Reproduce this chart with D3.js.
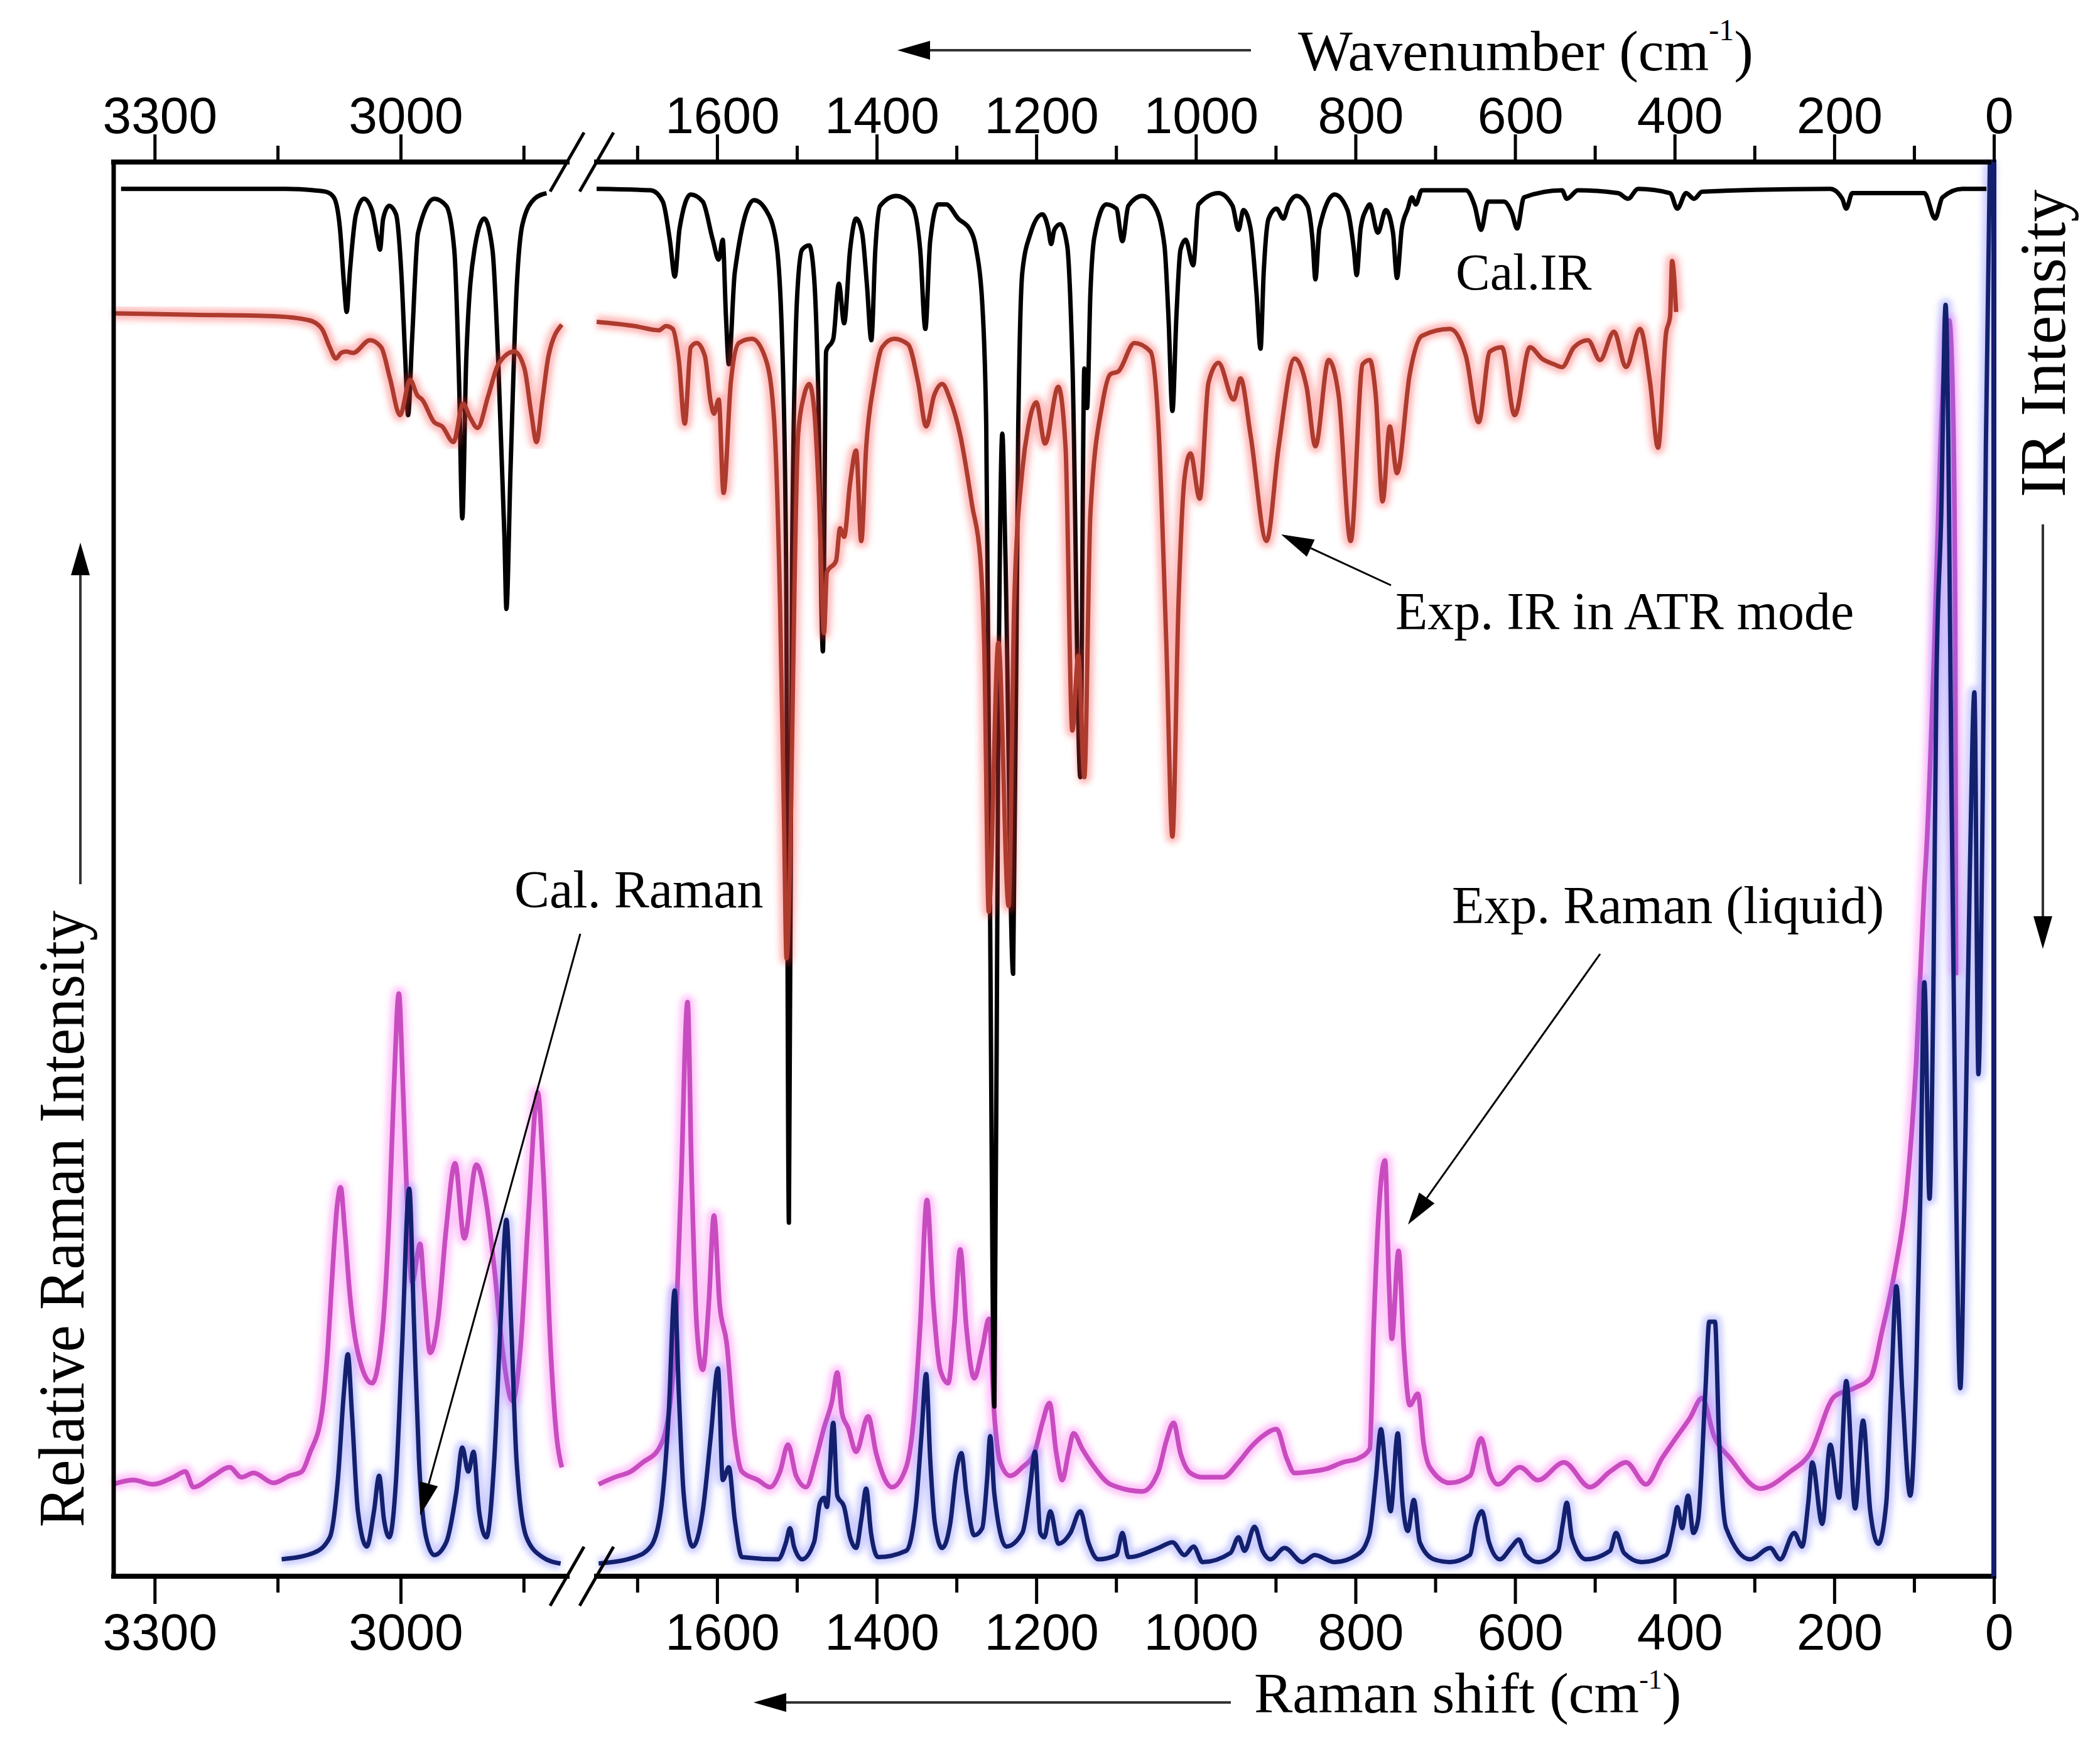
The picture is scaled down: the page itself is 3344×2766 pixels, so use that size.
<!DOCTYPE html>
<html>
<head>
<meta charset="utf-8">
<script src="https://cdn.jsdelivr.net/npm/d3@7"></script>
<style>
  body { margin: 0; background: #fff; }
  svg { display: block; }
</style>
</head>
<body>
<script>
// ---- data: [wavenumber (cm-1), relative intensity (0-100)] ----

// tick values of the broken wavenumber axis
var leftMajor = [3300, 3000], leftMinor = [3150, 2850];
var rightMajor = [1600, 1400, 1200, 1000, 800, 600, 400, 200, 0];
var rightMinor = [1700, 1500, 1300, 1100, 900, 700, 500, 300, 100];

// calculated IR (black)
var calIRLeft = [[3341,98.1],[3140,98.1],[3106,98],[3091,97.9],[3081.5,97.5],[3074,95.3],[3069,91.3],[3065.8,89.4],
  [3062,92.2],[3054.5,96.3],[3044.8,97.4],[3035,96.6],[3028.6,94.7],[3025.2,93.8],[3021.3,96],[3014,96.9],
  [3005.6,96.3],[2999.2,92.2],[2994.3,86],[2990.9,82.1],[2986,87.5],[2978.7,95],[2959,97.4],[2944.4,96.9],
  [2934.6,93.8],[2928.7,84.4],[2924.8,74.8],[2920,86],[2910,93.8],[2898,96],[2888,93.8],[2881,86],
  [2873.4,73.5],[2871,68.4],[2866,78.2],[2858.8,90.7],[2851.4,95.6],[2836.7,97.4],[2822,97.8]];
var calIRRight = [[1751,98.1],[1683,98],[1668,97.2],[1659,94.4],[1653,91.9],[1647,95.3],[1633,97.7],[1618,97.2],
  [1605.4,94.5],[1598,93.1],[1592.9,94.5],[1588.9,89.1],[1585.3,85.7],[1577.8,92.2],[1553.7,97.3],[1538.7,96.6],
  [1526.1,94.4],[1518.6,87.5],[1513.6,72],[1510,25],[1506,72],[1499.5,90.7],[1493.5,93.8],[1484.5,94.1],
  [1478.5,91.9],[1473.5,84.4],[1467.4,65.4],[1463.4,86.6],[1454.4,87.5],[1447.4,91.4],[1440.8,88.6],[1433.3,93.8],
  [1425.8,96],[1418.3,95],[1412.2,91.3],[1406.7,87.4],[1401.7,93.8],[1395.7,96.9],[1375.6,97.6],[1355.5,96.9],
  [1345.5,93.8],[1339,88.2],[1333,94.4],[1323,97],[1312.9,97],[1297.8,96],[1282.8,95.2],[1275.2,93.8],
  [1267.7,90],[1262.7,81.3],[1258.7,53.3],[1252.5,12],[1247.7,59.5],[1242.6,80.8],[1238.6,72],[1229,42.6],
  [1222.6,81.3],[1217.5,92.2],[1207.5,94.9],[1192.4,96.3],[1185,95.3],[1181.4,94.2],[1177.4,95.2],[1169.9,95.6],
  [1161.3,94.1],[1154.8,86],[1144.8,56.5],[1139.8,85.4],[1136.3,82.6],[1132.2,90.7],[1127.2,94.7],[1112.2,97],
  [1099.6,96.7],[1092.1,94.4],[1084.6,96.9],[1067,97.6],[1052,96.9],[1039.4,94.1],[1034.4,89.1],[1029.4,82.4],
  [1024.4,89.1],[1019.3,93.8],[1012.8,94.5],[1003.3,92.7],[996.7,97],[971.7,97.8],[954.1,96.9],[946.6,95.2],
  [940.5,96.6],[931.5,95.3],[924,90.7],[919,86.8],[915,92.2],[908.9,96],[898.9,96.7],[890.4,96],
  [883.8,97],[873.8,97.6],[860.3,96.9],[853.7,94.4],[850.2,91.7],[845.2,95.3],[826.1,97.7],[810,96.6],
  [802,93.8],[798.5,92],[793.5,95.3],[786,96.7],[782.1,97],[772,95],[762,96.6],[753,95],[748,91.8],[742,95.3],
  [734.4,96.7],[729.4,97.5],[724.4,97],[716.9,98],[661.7,98],[650.6,96.9],[642.6,95.2],[634.1,97.2],[614,97.2],
  [604,96.4],[597.4,95.3],[588.9,97.5],[541.2,98],[535.2,97.4],[521.2,98],[471,97.8],[458.4,97.4],[445.9,98.1],
  [405.7,97.8],[396.7,96.7],[385.7,97.8],[375.6,97.4],[365.6,97.9],[205,98.1],[190,97.4],[185,96.7],[177.4,97.8],
  [87.1,97.8],[73.6,96],[64.5,97.5],[39.4,98.1],[9.3,98.1]];

// experimental IR, ATR (red)
var expIRLeft = [[3350.7,89.3],[3253,89.2],[3155,89.1],[3111,88.8],[3096,88.2],[3086.4,86.9],[3079,86.1],[3072.7,86.5],
  [3066.8,86.6],[3058,86.5],[3037.4,87.4],[3023.7,86.9],[3013,84.7],[3000.7,82.1],[2988.5,84.6],[2979.6,83.5],
  [2973.8,83.2],[2959,81.6],[2949.3,81.3],[2935.6,80.2],[2923.8,82.9],[2915,81.9],[2906.2,81.2],[2893,83.5],
  [2880.8,85.7],[2861.2,86.6],[2849,85.4],[2840.6,82.2],[2834.3,80.2],[2827,83.2],[2819.6,86.3],[2803.4,88.5]];
var expIRRight = [[1750.9,88.7],[1703.3,88.4],[1673,88.1],[1664,88.4],[1655.6,88.2],[1648,86],[1640.5,81.5],[1633,86.9],
  [1625.5,87.2],[1615.4,86.3],[1607.9,83],[1603.9,82.2],[1597.9,83.2],[1591.9,76.6],[1582.8,84.4],[1572.8,87.2],
  [1556.3,87.5],[1538.7,86],[1528.7,81.9],[1521.1,68.8],[1516.1,53.3],[1513,43.7],[1508,52],[1503,70],
  [1498.5,80.7],[1491,83.5],[1484.5,84.3],[1478.5,82.6],[1472.5,76.6],[1466,66.7],[1462.4,71],[1450.9,71.8],
  [1445.9,74.1],[1440.8,73.5],[1433.3,77.3],[1425.8,79.6],[1419.3,73.2],[1413.2,79.8],[1403.2,84.4],[1393.2,86.9],
  [1378.1,87.5],[1360.6,87.1],[1348,84.4],[1338,81.3],[1328,83.5],[1317.9,84.3],[1307.9,83.2],[1295.3,80.7],
  [1280.3,75.7],[1270.2,72],[1265.2,65.7],[1259.6,47],[1247.5,66],[1234.7,47.4],[1227.6,68.9],[1217.5,78.2],
  [1210,81.3],[1200,83],[1189,80.1],[1172.4,84.1],[1163.3,79.8],[1154.8,59.8],[1147.3,65.1],[1139.8,56.5],
  [1132.2,75.1],[1117.2,82.9],[1107.1,85],[1097.1,85.2],[1077,87.2],[1056.9,86.6],[1046.9,81.3],[1036.9,65.7],
  [1029.4,52.3],[1021.8,68.8],[1014.3,77.6],[1006.8,79.4],[995.2,76.2],[984.2,84.4],[971.7,85.8],[952.6,83.2],
  [944.1,84.7],[931.5,80.7],[911.4,73.2],[896.4,79.8],[876.3,86.1],[861.3,84.1],[850.2,79.9],[833.7,86],
  [821.1,83.5],[806,73.2],[791,85.7],[782.1,86],[774.6,83.5],[766,76],[757,81.3],[748,78],[732,85],
  [716.9,87.7],[681.7,88.2],[661.7,86.3],[645.6,81.6],[631.6,86.6],[616.5,86.9],[600.5,82.1],[581.4,86.9],
  [566.3,86.1],[551.3,85.7],[541.2,85.5],[526.2,86.9],[508.6,87.4],[493.6,86],[476,88],[461,85.5],[443.4,88.2],
  [430.8,84.4],[420.8,79.8],[410.8,87.9],[405.7,89.1],[403.2,93],[398.2,89.4]];

// experimental Raman, liquid (magenta)
var expRamanLeft = [[3350.7,6.5],[3326.2,6.8],[3301.7,6.5],[3277.3,7.0],[3262.6,7.4],[3252.8,6.3],[3228.3,7.1],[3208.7,7.7],
  [3194.1,7.0],[3179.4,7.3],[3154.9,6.6],[3135.3,7.1],[3120.6,7.4],[3110.8,8.7],[3096.2,11.5],[3088.8,16.1],
  [3083.9,20.8],[3077.6,26.1],[3073.2,27.5],[3068.3,24.6],[3061.9,19.9],[3052.1,15.8],[3035,13.65],[3022.7,17.1],
  [3013.9,25.5],[3008,34.8],[3002.2,41.2],[2997.3,34.8],[2992.4,27.0],[2986,20.8],[2976.2,23.5],[2971.3,20.2],
  [2964,15.8],[2954.2,18.3],[2944.4,24.6],[2933.6,29.2],[2922.4,23.9],[2907.7,29.1],[2895.5,26.4],[2885.7,21.75],
  [2875.9,16.1],[2863.6,12.4],[2853.9,16.1],[2844.1,25.5],[2832.8,34.2],[2826,28.6],[2817.1,16.1],[2809.8,9.9],
  [2803.4,7.7]];
var expRamanRight = [[1748.4,6.5],[1728.4,7.0],[1708.3,7.4],[1693.2,8.05],[1673.2,9.0],[1660.6,11.5],[1653.1,16.1],
  [1645.5,27.0],[1637,40.6],[1632,28.6],[1625.5,17.7],[1618,14.6],[1610.4,19.3],[1603.9,25.5],[1596.9,19.3],
  [1587.9,16.45],[1577.8,9.9],[1568.8,7.4],[1548.7,6.8],[1533.7,6.3],[1521.1,7.4],[1511.1,9.3],[1501,7.1],
  [1488.5,6.3],[1476,8.35],[1466,10.5],[1455.9,12.4],[1449.4,14.4],[1443.4,11.5],[1435.8,10.5],[1425.8,8.8],
  [1410.7,11.3],[1400.7,8.7],[1380.6,6.3],[1363.1,7.7],[1353,11.5],[1345.5,17.7],[1337,26.6],[1329,19.3],
  [1320.4,14.6],[1310.4,13.65],[1302.8,17.7],[1295.3,23.1],[1287.8,17.7],[1277.8,14],[1267.7,16.1],[1259.2,18.2],
  [1252.7,11.5],[1245.1,8.05],[1232.6,7.1],[1217.5,7.7],[1202.5,8.7],[1192.4,10.85],[1183.4,12.25],[1174.9,8.7],
  [1167.4,6.8],[1159.8,8.7],[1153.3,10.1],[1142.3,9.0],[1127.2,7.7],[1107.1,6.5],[1067,6.0],[1047,7.4],
  [1036.9,9.6],[1027.9,10.85],[1019.3,8.7],[1006.8,7.3],[991.7,7.0],[966.6,7.0],[946.6,8.05],[931.5,9.1],
  [916.5,9.9],[898.9,10.4],[886.3,8.35],[876.3,7.3],[856.2,7.4],[836.2,7.6],[816.1,8.05],[796,8.35],
  [782.1,9.0],[777.1,17.7],[771.1,25.5],[763,29.4],[758,20.8],[754.5,16.8],[746,23],[739.4,16.1],[731.9,12.1],
  [721.9,12.9],[714.4,9.3],[706.8,7.7],[681.7,6.6],[656.6,7.1],[642.6,9.75],[631.6,7.3],[621.5,6.5],[593.9,7.7],
  [571.3,6.8],[538.7,8.05],[506.1,6.3],[481,7.4],[460.9,8.05],[435.9,6.5],[415.8,8.35],[400.7,9.6],[380.7,11.2],
  [365.6,12.6],[350.6,9.9],[330.5,8.35],[292.8,6.2],[255.2,7.4],[230.1,8.7],[200,12.7],[174.9,13.3],[154.8,14],
  [139.8,17.4],[124.7,21.4],[109.7,27.0],[97.2,36.4],[87.1,48.85],[84.6,51.2],[74.6,65.7],[67,79.8],[60,87.5],
  [56,88.8],[51,82],[48.5,68],[47.5,42.5]];

// calculated Raman (navy)
var calRamanLeft = [[3145.1,1.2],[3106,1.65],[3086.4,2.75],[3076.6,6.8],[3069.2,13],[3064.4,15.7],[3059.4,11.5],[3052.1,4.6],
  [3041.3,2.1],[3032.5,4.6],[3026.2,7.1],[3020.3,4.0],[3013.9,2.75],[3005.6,6.8],[2998.3,16.1],[2989.5,27.4],
  [2983.6,17.7],[2977.7,8.35],[2968.9,2.75],[2959.1,1.5],[2944.4,2.4],[2932.2,5.9],[2924.8,9.1],[2917.5,7.4],
  [2911.1,8.8],[2904.3,4.6],[2895.5,2.75],[2885.7,8.35],[2878.3,17.7],[2871,25.2],[2865.1,17.7],[2858.8,8.35],
  [2846.5,2.75],[2826.9,1.35],[2804.9,0.9]];
var calRamanRight = [[1748.4,0.9],[1703.3,1.35],[1683.2,2.1],[1670.6,4.6],[1660.6,11.5],[1653.1,20.2],[1648,13],[1642,5.9],
  [1630.5,2.1],[1618,4.6],[1607.9,9.9],[1598.9,14.7],[1592.9,6.8],[1585.3,7.7],[1577.8,4.0],[1568.8,1.35],
  [1523.6,1.2],[1513.6,2.4],[1508.6,3.4],[1503.6,2.1],[1493.5,1.2],[1478.5,2.4],[1471,5.2],[1466,5.55],
  [1462.4,4.9],[1454.4,10.85],[1449.4,5.7],[1440.8,4.9],[1433.3,2.75],[1425.8,2.0],[1419.3,4.0],[1413.2,6.2],
  [1407.2,3.1],[1398.2,1.35],[1363.1,1.8],[1350.5,5.2],[1344,9.9],[1338,14.3],[1333,8.35],[1327,3.7],
  [1318,2.0],[1307.9,3.7],[1300.3,7.4],[1293.8,8.7],[1287.8,5.9],[1277.8,2.9],[1267.7,3.4],[1261.7,6.8],
  [1257.7,9.9],[1252.7,5.9],[1237.6,2.1],[1217.5,3.06],[1208.5,5.9],[1201.5,8.8],[1195,3.06],[1190,2.75],
  [1182.4,4.6],[1172.4,2.3],[1157.3,3.06],[1144.8,4.6],[1134.7,2.4],[1122.2,1.2],[1099.6,1.5],[1092.1,3.06],
  [1084.6,1.35],[1047,2.0],[1029.4,2.4],[1014.3,1.5],[1002.8,2.1],[991.7,1.0],[956.6,1.65],[946.6,2.75],
  [939,1.8],[926.5,3.5],[916.5,1.8],[906.4,1.2],[888.9,2.0],[866.3,1.0],[851.2,1.5],[826.1,1.0],[798.5,1.5],
  [786,2.4],[782.1,3.06],[774.6,6.8],[768.1,10.4],[762,7.4],[756,4.6],[747,10.1],[741,5.2],[734.4,3.2],
  [726.9,5.4],[719.4,2.4],[701.8,1.2],[681.7,1.0],[656.7,1.5],[649.1,3.7],[641.6,4.6],[632.6,2.4],[619,1.2],
  [604,2.1],[595.4,2.6],[586.4,1.5],[571.3,1.0],[546.3,1.8],[540.2,3.7],[535.2,5.2],[528.7,2.75],[511.1,1.2],
  [481,1.8],[473.5,3.06],[463.5,1.65],[440.9,1.0],[410.8,1.5],[400.7,3.7],[396.7,4.9],[390.7,3.4],[383.2,5.7],
  [376.6,3.06],[370.6,4.0],[361.6,13.0],[356.6,18.0],[349.5,18.0],[344.5,9.9],[335.5,3.4],[305.4,1.2],
  [280.3,2.0],[267.8,1.2],[250.2,3.06],[240.2,2.1],[232.6,5.2],[227.6,8.05],[215.1,3.7],[205,9.3],[194,5.55],
  [185,13.8],[173.9,4.8],[163.9,11],[154.9,4.6],[144.8,2.3],[134.8,5.2],[128.8,13],[122.2,20.5],[114.7,13],
  [104.7,5.7],[97.1,14.6],[92.1,27],[87.1,42],[80.6,26.7],[75.6,42.6],[72,63.2],[66,75],[60.5,89.9],[57,80],
  [53,55],[48,30],[42,13.3],[36,30],[30,50],[24.4,62.5],[19.4,35.5],[14,55],[10,80],[5,100]];

// ---- layout ----
var W = 3344, H = 2766;
var plot = {left: 181, right: 3175, top: 258, bottom: 2510, breakL: 903, breakR: 950};
var serif = "'Liberation Serif', 'Times New Roman', serif";
var sans = "'Liberation Sans', Arial, sans-serif";

var xL = d3.scaleLinear().domain([3350, 2797]).range([plot.left, plot.breakL]);
var xR = d3.scaleLinear().domain([1751, 0]).range([plot.breakR, plot.right]);
var y = d3.scaleLinear().domain([0, 100]).range([plot.bottom, plot.top]);

var svg = d3.select("body").append("svg")
  .attr("width", W).attr("height", H)
  .attr("viewBox", "0 0 " + W + " " + H);

var defs = svg.append("defs");
defs.append("filter").attr("id", "glow")
  .attr("x", "-5%").attr("y", "-5%").attr("width", "110%").attr("height", "110%")
  .append("feGaussianBlur").attr("stdDeviation", 5);

function lineFor(xs) {
  return d3.line().x(function(d) { return xs(d[0]); }).y(function(d) { return y(d[1]); })
    .curve(d3.curveMonotoneX);
}

var series = [
  {left: expRamanLeft, right: expRamanRight, color: "#c84cbf", glow: "#ff5ef0", width: 7.5},
  {left: calRamanLeft, right: calRamanRight, color: "#12206e", glow: "#6f74ff", width: 7},
  {left: calIRLeft, right: calIRRight, color: "#000000", glow: null, width: 7},
  {left: expIRLeft, right: expIRRight, color: "#ad3b2e", glow: "#ff3b3b", width: 7}
];

var curves = svg.append("g").attr("class", "curves");
series.forEach(function(s) {
  [[s.left, xL], [s.right, xR]].forEach(function(p) {
    if (s.glow) {
      curves.append("path").datum(p[0])
        .attr("d", lineFor(p[1]))
        .attr("fill", "none").attr("stroke", s.glow)
        .attr("stroke-width", s.width * 3).attr("stroke-opacity", 0.35)
        .attr("stroke-linejoin", "round").attr("filter", "url(#glow)");
    }
    curves.append("path").datum(p[0])
      .attr("d", lineFor(p[1]))
      .attr("fill", "none").attr("stroke", s.color)
      .attr("stroke-width", s.width).attr("stroke-linejoin", "round");
  });
});

// ---- frame with axis break ----
var frame = svg.append("g").attr("stroke", "#000").attr("stroke-linecap", "square");
[plot.top, plot.bottom].forEach(function(yy) {
  frame.append("line").attr("x1", plot.left).attr("x2", plot.breakL).attr("y1", yy).attr("y2", yy).attr("stroke-width", 8);
  frame.append("line").attr("x1", plot.breakR).attr("x2", plot.right).attr("y1", yy).attr("y2", yy).attr("stroke-width", 8);
  [plot.breakL, plot.breakR].forEach(function(xx) {
    frame.append("line").attr("x1", xx - 27).attr("y1", yy + 47).attr("x2", xx + 27).attr("y2", yy - 47)
      .attr("stroke-width", 5).attr("stroke-linecap", "butt");
  });
});
frame.append("line").attr("x1", plot.left).attr("x2", plot.left).attr("y1", plot.top).attr("y2", plot.bottom).attr("stroke-width", 7);
frame.append("line").attr("x1", plot.right).attr("x2", plot.right).attr("y1", plot.top).attr("y2", plot.bottom)
  .attr("stroke-width", 8).attr("stroke", "#141e6e");

// ---- ticks via d3 axes ----
function styleAxis(g) {
  g.select(".domain").remove();
  g.selectAll(".tick line").attr("stroke", "#000").attr("stroke-width", 5);
  g.selectAll(".tick text").attr("fill", "#000").attr("font-family", sans).attr("font-size", 82).attr("dx", 8);
}
function drawAxes(scale, major, minor) {
  svg.append("g").attr("transform", "translate(0," + plot.top + ")")
    .call(d3.axisTop(scale).tickValues(major).tickSize(44).tickPadding(2).tickFormat(d3.format("d")))
    .call(styleAxis);
  svg.append("g").attr("transform", "translate(0," + plot.top + ")")
    .call(d3.axisTop(scale).tickValues(minor).tickSize(26).tickFormat(""))
    .call(styleAxis);
  svg.append("g").attr("transform", "translate(0," + plot.bottom + ")")
    .call(d3.axisBottom(scale).tickValues(major).tickSize(44).tickPadding(15).tickFormat(d3.format("d")))
    .call(styleAxis);
  svg.append("g").attr("transform", "translate(0," + plot.bottom + ")")
    .call(d3.axisBottom(scale).tickValues(minor).tickSize(26).tickFormat(""))
    .call(styleAxis);
}
drawAxes(xL, leftMajor, leftMinor);
drawAxes(xR, rightMajor, rightMinor);

// ---- arrows and text ----
function arrow(x1, y1, x2, y2, w, color) {
  var a = Math.atan2(y2 - y1, x2 - x1), len = 52, hw = 15;
  var bx = x2 - len * Math.cos(a), by = y2 - len * Math.sin(a);
  svg.append("line").attr("x1", x1).attr("y1", y1).attr("x2", bx).attr("y2", by)
    .attr("stroke", color || "#000").attr("stroke-width", w || 3);
  svg.append("path")
    .attr("d", "M" + x2 + "," + y2 +
      "L" + (bx + hw * Math.sin(a)) + "," + (by - hw * Math.cos(a)) +
      "L" + (bx - hw * Math.sin(a)) + "," + (by + hw * Math.cos(a)) + "Z")
    .attr("fill", "#000");
}

function label(x, yy, txt, size) {
  return svg.append("text").attr("x", x).attr("y", yy)
    .attr("font-family", serif).attr("font-size", size || 84).attr("fill", "#000").text(txt);
}

// axis titles
var topTitle = svg.append("text").attr("x", 2067).attr("y", 112)
  .attr("font-family", serif).attr("font-size", 92).attr("fill", "#000");
topTitle.append("tspan").text("Wavenumber (cm");
topTitle.append("tspan").attr("font-size", 48).attr("dy", -48).text("-1");
topTitle.append("tspan").attr("dy", 48).text(")");
arrow(1992, 80, 1429, 80, 4, "#333");

var botTitle = svg.append("text").attr("x", 1997).attr("y", 2727)
  .attr("font-family", serif).attr("font-size", 92).attr("fill", "#000");
botTitle.append("tspan").text("Raman shift (cm");
botTitle.append("tspan").attr("font-size", 44).attr("dy", -38).text("-1");
botTitle.append("tspan").attr("dy", 38).text(")");
arrow(1960, 2711, 1200, 2711, 4, "#333");

svg.append("text").attr("transform", "translate(3288,792) rotate(-90)")
  .attr("font-family", serif).attr("font-size", 104).attr("fill", "#000")
  .attr("textLength", 490).attr("lengthAdjust", "spacingAndGlyphs")
  .text("IR Intensity");
arrow(3253, 835, 3253, 1511, 4, "#333");

svg.append("text").attr("transform", "translate(133,2432) rotate(-90)")
  .attr("font-family", serif).attr("font-size", 104).attr("fill", "#000")
  .attr("textLength", 982).attr("lengthAdjust", "spacingAndGlyphs")
  .text("Relative Raman Intensity");
arrow(128, 1408, 128, 864, 4, "#333");

// curve labels
label(2318, 461, "Cal.IR", 82);
label(2222, 1002, "Exp. IR in ATR mode", 84);
arrow(2215, 932, 2040, 851, 3);
label(819, 1445, "Cal. Raman", 84);
arrow(924, 1487, 669, 2413, 3);
label(2312, 1470, "Exp. Raman (liquid)", 84);
arrow(2548, 1519, 2242, 1950, 3);
</script>
</body>
</html>
